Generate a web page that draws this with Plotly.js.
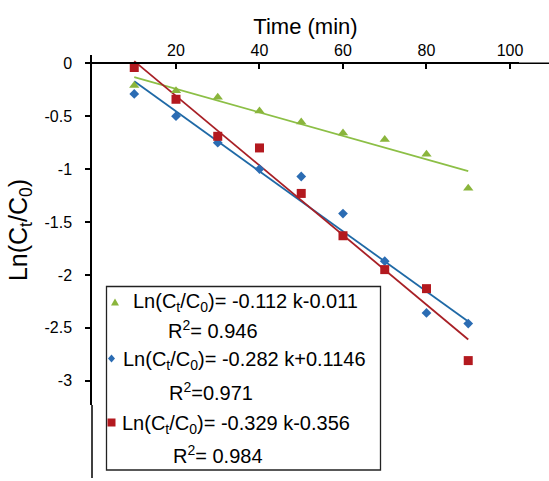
<!DOCTYPE html>
<html>
<head>
<meta charset="utf-8">
<script src="https://cdn.plot.ly/plotly-3.0.1.min.js"></script>
<style>html,body{margin:0;padding:0;background:#fff;}#chart{width:549px;height:481px;}</style>
</head>
<body>
<div id="chart"></div>
<script>
// ---- data ----
const time = [10, 20, 30, 40, 50, 60, 70, 80, 90];
const greenVals = [-0.21, -0.26, -0.32, -0.45, -0.555, -0.66, -0.72, -0.86, -1.18];
const blueVals  = [-0.29, -0.50, -0.75, -1.00, -1.07, -1.42, -1.87, -2.36, -2.46];
const redVals   = [-0.04, -0.34, -0.69, -0.80, -1.23, -1.63, -1.95, -2.13, -2.81];
const fitTime  = [10, 90];
const greenFit = [-0.13, -1.02];
const blueFit  = [-0.17, -2.44];
const redFit   = [0.02, -2.61];
const xTickVals = [20, 40, 60, 80, 100];
const xTickText = ['20', '40', '60', '80', '100'];
const yTickVals = [0, -0.5, -1, -1.5, -2, -2.5, -3];
const yTickText = ['0', '-0.5', '-1', '-1.5', '-2', '-2.5', '-3'];
const eqText = [
  'Ln(C<sub>t</sub>/C<sub>0</sub>)= -0.112 k-0.011',
  'Ln(C<sub>t</sub>/C<sub>0</sub>)= -0.282 k+0.1146',
  'Ln(C<sub>t</sub>/C<sub>0</sub>)= -0.329 k-0.356'
];
const r2Text = ['R<sup>2</sup>= 0.946', 'R<sup>2</sup>=0.971', 'R<sup>2</sup>= 0.984'];
const xTitle = 'Time (min)';
const yTitle = 'Ln(C<sub>t</sub>/C<sub>0</sub>)';

// ---- styling ----
const GREEN = '#8ab53c', GREEN_L = '#8cbf46';
const BLUE = '#2b6cb3', BLUE_L = '#1f69a6';
const RED = '#b3191f', RED_L = '#a82026';
const FONT = '"Liberation Sans", Arial, sans-serif';

// pixel -> paper helpers (plot area: x 92..549, y 55..478)
const L = 92, W = 457, T = 55, H = 423;
const PX = p => (p - L) / W;
const PY = p => (T + H - p) / H;

const XD = PX(519);
const YD = PY(405);
const Y0 = PY(63.3);

const traces = [
  {x: fitTime, y: greenFit, mode: 'lines', line: {color: GREEN_L, width: 1.8}, hoverinfo: 'skip'},
  {x: fitTime, y: blueFit, mode: 'lines', line: {color: BLUE_L, width: 1.8}, hoverinfo: 'skip'},
  {x: fitTime, y: redFit, mode: 'lines', line: {color: RED_L, width: 1.8}, hoverinfo: 'skip'},
  {x: time, y: greenVals, mode: 'markers', marker: {symbol: 'triangle-up', size: 9, color: GREEN}},
  {x: time, y: blueVals, mode: 'markers', marker: {symbol: 'diamond', size: 7.5, color: BLUE}},
  {x: time, y: redVals, mode: 'markers', marker: {symbol: 'square', size: 9, color: RED}}
];

const eqPos = [[131.5, 302], [121.5, 360], [120.5, 424]];
const r2Pos = [[166.5, 329], [168, 391], [171.5, 454]];
const annotations = [];
eqText.forEach((t, i) => annotations.push({
  xref: 'paper', yref: 'paper', x: PX(eqPos[i][0]), y: PY(eqPos[i][1]),
  xanchor: 'left', yanchor: 'middle', showarrow: false, text: t,
  font: {family: FONT, size: 20, color: '#000'}, borderpad: 0
}));
r2Text.forEach((t, i) => annotations.push({
  xref: 'paper', yref: 'paper', x: PX(r2Pos[i][0]), y: PY(r2Pos[i][1]),
  xanchor: 'left', yanchor: 'middle', showarrow: false, text: t,
  font: {family: FONT, size: 20, color: '#000'}, borderpad: 0
}));

function markerShape(cx, cy, path, color) {
  return {type: 'path', xref: 'paper', yref: 'paper', xsizemode: 'pixel', ysizemode: 'pixel',
    xanchor: PX(cx), yanchor: PY(cy), path: path, fillcolor: color, line: {width: 0}};
}

const shapes = [
  // extensions of the axis lines
  {type: 'line', xref: 'paper', yref: 'paper', x0: XD, x1: 1.01, y0: Y0, y1: Y0, line: {color: '#000', width: 1.5}},
  {type: 'line', xref: 'paper', yref: 'paper', x0: 0, x1: 0, y0: 0, y1: YD, line: {color: '#000', width: 1.5}},
  // legend box
  {type: 'rect', xref: 'paper', yref: 'paper', x0: PX(106.5), x1: PX(380.5), y0: PY(470), y1: PY(286.5),
   line: {color: '#222', width: 1.3}, fillcolor: 'rgba(255,255,255,0)'},
  markerShape(115, 302, 'M-4,-3.5 L4,-3.5 L0,3.5 Z', GREEN),
  markerShape(111.5, 358.5, 'M0,4 L3.5,0 L0,-4 L-3.5,0 Z', BLUE),
  markerShape(111.5, 422.5, 'M-4,-4 L4,-4 L4,4 L-4,4 Z', RED)
];

const layout = {
  width: 549, height: 481,
  margin: {l: L, r: 0, t: T, b: 481 - T - H, pad: 0},
  paper_bgcolor: '#fff', plot_bgcolor: '#fff',
  showlegend: false,
  font: {family: FONT, color: '#000', size: 16},
  xaxis: {
    domain: [0, XD], range: [-0.12, 102.16], side: 'top', anchor: 'free', position: Y0,
    showline: true, linecolor: '#000', linewidth: 1.5,
    ticks: 'inside', ticklen: 5, tickwidth: 1.5, tickcolor: '#000',
    tickvals: xTickVals, ticktext: xTickText, tickfont: {size: 16},
    showgrid: false, zeroline: false, fixedrange: true,
    title: {text: xTitle, font: {size: 22}, standoff: 0}
  },
  yaxis: {
    domain: [YD, 1], range: [-3.2297, 0.0784],
    showline: true, linecolor: '#000', linewidth: 1.5,
    ticks: 'outside', ticklen: 5, tickwidth: 1.5, tickcolor: '#000',
    tickvals: yTickVals, ticktext: yTickText, tickfont: {size: 16},
    ticklabelstandoff: 10,
    showgrid: false, zeroline: false, fixedrange: true,
    title: {text: yTitle, font: {size: 25}, standoff: 10}
  },
  annotations: annotations,
  shapes: shapes
};

Plotly.newPlot('chart', traces, layout, {displayModeBar: false});
</script>
</body>
</html>
